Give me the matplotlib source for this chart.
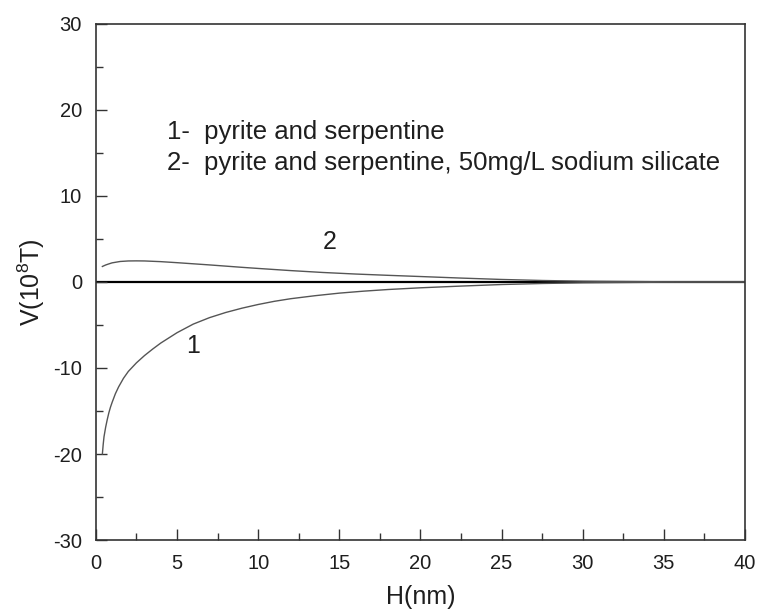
import matplotlib
matplotlib.use('Agg')
import matplotlib.pyplot as plt
from matplotlib.ticker import MultipleLocator

plt.rcParams['font.family'] = ['Liberation Sans', 'DejaVu Sans']
plt.rcParams['axes.unicode_minus'] = False

# curve 1: pyrite and serpentine
h1 = [0.4, 0.45, 0.5, 0.6, 0.7, 0.8, 0.9, 1.0, 1.2, 1.4, 1.7, 2.0, 2.5, 3.0, 3.5, 4.0,
      5.0, 6.0, 7.0, 8.0, 9.0, 10, 11, 12, 13.5, 15, 16.5, 18, 20, 22.5, 25, 27.5, 30,
      35, 40]
v1 = [-20, -18.9, -18.0, -16.9, -16.0, -15.2, -14.55, -14.0, -13.0, -12.2, -11.2,
      -10.4, -9.4, -8.55, -7.8, -7.1, -5.9, -4.9, -4.15, -3.55, -3.05, -2.62, -2.25,
      -1.95, -1.6, -1.3, -1.07, -0.88, -0.68, -0.48, -0.3, -0.18, -0.1, -0.03, 0]

# curve 2: with 50mg/L sodium silicate
h2 = [0.4, 0.6, 0.8, 1.0, 1.5, 2.0, 2.5, 3.0, 4, 5, 6, 7, 8, 9, 10, 12, 14, 16, 18, 20,
      22.5, 25, 27.5, 30, 35, 40]
v2 = [1.8, 1.97, 2.1, 2.22, 2.38, 2.44, 2.45, 2.44, 2.36, 2.24, 2.11, 1.98, 1.84, 1.7,
      1.57, 1.32, 1.1, 0.92, 0.77, 0.63, 0.45, 0.29, 0.17, 0.09, 0.02, 0]

legend_lines = ['1-  pyrite and serpentine',
                '2-  pyrite and serpentine, 50mg/L sodium silicate']

txt = '#1e1e1e'
fig = plt.figure(figsize=(7.61, 6.12), dpi=100)
ax = fig.add_axes([0.126, 0.1176, 0.853, 0.8434])

ax.axhline(0, color='black', lw=1.6, zorder=1)
ax.plot(h1, v1, color='#555555', lw=1.0, zorder=2)
ax.plot(h2, v2, color='#555555', lw=1.0, zorder=2)

ax.set_xlim(0, 40)
ax.set_ylim(-30, 30)
ax.xaxis.set_major_locator(MultipleLocator(5))
ax.xaxis.set_minor_locator(MultipleLocator(2.5))
ax.yaxis.set_major_locator(MultipleLocator(10))
ax.yaxis.set_minor_locator(MultipleLocator(5))
ax.tick_params(which='both', direction='in', top=False, right=False,
               labelsize=14.5, labelcolor=txt, width=1.0, color='#333333')
ax.tick_params(which='major', length=8, pad=10)
ax.tick_params(which='minor', length=5)
for s in ax.spines.values():
    s.set_color('#333333')
    s.set_linewidth(1.2)

ax.set_xlabel('H(nm)', fontsize=18, color=txt, labelpad=9)
ax.set_ylabel(r'V(10$^{\mathregular{8}}$T)', fontsize=18, color=txt, labelpad=4)

ax.text(4.4, 17.4, legend_lines[0], fontsize=18.5, color=txt, va='center')
ax.text(4.4, 13.8, legend_lines[1], fontsize=18.5, color=txt, va='center')
ax.text(6.0, -7.5, '1', fontsize=18, color=txt, ha='center', va='center')
ax.text(14.4, 4.7, '2', fontsize=18, color=txt, ha='center', va='center')

fig.savefig('out.png', dpi=100)
